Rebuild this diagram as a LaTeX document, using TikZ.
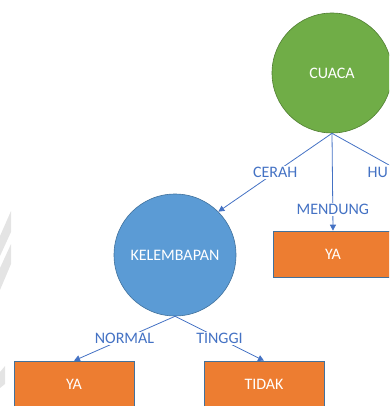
\documentclass[tikz,border=0pt]{standalone}
\usepackage{fontspec}
\setmainfont{Carlito}
\usetikzlibrary{arrows.meta}
\definecolor{cgreen}{HTML}{70AD47}
\definecolor{cgreenline}{HTML}{507E32}
\definecolor{cblue}{HTML}{5B9BD5}
\definecolor{cblueline}{HTML}{41719C}
\definecolor{corange}{HTML}{ED7D31}
\definecolor{clabel}{HTML}{4472C4}
\definecolor{wm}{HTML}{E4E4E4}
\tikzset{
  decision/.style={circle, draw=cblueline, line width=0.6pt, inner sep=0pt, minimum size=120pt, text=white, font=\fontsize{16}{18}\selectfont},
  leaf/.style={rectangle, fill=corange, draw=cblueline, line width=0.6pt, minimum width=120pt, minimum height=46pt, inner sep=0pt, text=white, font=\fontsize{16}{18}\selectfont},
  edgelabel/.style={fill=white, text=clabel, inner sep=1.5pt, font=\fontsize{16}{18}\selectfont},
  conn/.style={draw=clabel, line width=0.8pt},
  arr/.style={conn, -{Triangle[length=6pt,width=6pt]}}
}
\begin{document}
\begin{tikzpicture}[x=1pt,y=-1pt]
\useasboundingbox (0,0) rectangle (389,406);
\clip (0,0) rectangle (389,406);
% faint watermark stripes
\fill[wm] (0,236) -- (11,211) -- (11,232) -- (0,256) -- cycle;
\fill[wm] (0,268) -- (11,244) -- (11,264) -- (0,290) -- cycle;
\fill[wm] (0,372) -- (5,366) -- (5,384) -- (0,388) -- cycle;
% nodes
\node[decision, fill=cgreen, draw=cgreenline] (cuaca) at (332,73) {CUACA};
\node[decision, fill=cblue, minimum size=122pt] (kelem) at (175,255) {KELEMBAPAN};
\node[leaf] (ya1) at (333,254) {YA};
\node[leaf] (ya2) at (74,384) {YA};
\node[leaf] (tidak) at (264,384) {TIDAK};
\coordinate (hu) at (398,170);
% connectors
\draw[arr] (cuaca.south) -- (kelem.45) node[edgelabel, pos=0.5] {CERAH};
\draw[arr] (cuaca.south) -- (ya1.north) node[edgelabel, pos=0.78] {MENDUNG};
\draw[conn] (cuaca.south) -- (hu);
\node[edgelabel, anchor=west] (hulabel) at (366,172) {HU};
\draw[arr] (kelem.south) -- (ya2.north) node[edgelabel, pos=0.5] {NORMAL};
\draw[arr] (kelem.south) -- (tidak.north) node[edgelabel, pos=0.5] {TINGGI};
\end{tikzpicture}
\end{document}
